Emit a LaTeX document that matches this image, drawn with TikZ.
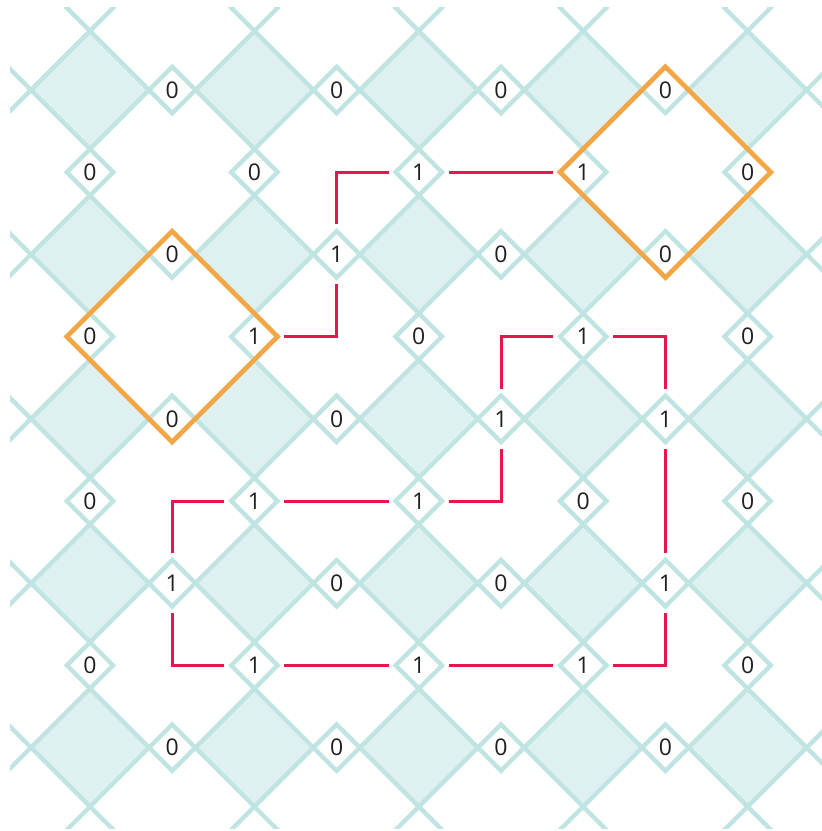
\documentclass[tikz,border=0pt]{standalone}
\usepackage{fontspec}
\setmainfont{Open Sans}
\definecolor{tealline}{RGB}{191,228,226}
\definecolor{tealfill}{RGB}{222,240,240}
\definecolor{orangeline}{RGB}{245,166,68}
\definecolor{redline}{RGB}{230,22,78}
\definecolor{txt}{RGB}{35,31,32}
\begin{document}
\begin{tikzpicture}[x=1pt,y=-1pt,
  shadedbox/.style={fill=tealfill,draw=tealline,line width=4.4pt,line join=miter},
  smallbox/.style={fill=white,draw=tealline,line width=4.4pt,line join=miter},
  lbl/.style={inner sep=0pt,text=txt,font=\fontsize{23}{27}\selectfont},
  redl/.style={draw=redline,line width=3pt,line join=miter,shorten <=30pt,shorten >=30pt},
  orangebox/.style={draw=orangeline,line width=4.6pt,line join=miter}]
\useasboundingbox (0,0) rectangle (822,831);
\def\s{82.2}
\def\hs{23.2}
\pgfmathsetmacro{\hb}{\s-\hs}
\pgfmathsetmacro{\ho}{\s+\hs}
\begin{scope}
\clip (10,7) rectangle (824,828);
\foreach \c in {-2,0,...,10}{
  \foreach \r in {-2,0,...,10}{
    \path[shadedbox] ({90+\c*\s-\hb},{90+\r*\s}) -- ++(\hb,-\hb) -- ++(\hb,\hb) -- ++(-\hb,\hb) -- cycle;
  }
}
\foreach \c in {-1,...,9}{
  \foreach \r in {-1,...,9}{
    \pgfmathtruncatemacro{\parity}{mod(\c+\r+2,2)}
    \ifnum\parity=1
      \path[smallbox] ({90+\c*\s-\hs},{90+\r*\s}) -- ++(\hs,-\hs) -- ++(\hs,\hs) -- ++(-\hs,\hs) -- cycle;
    \fi
  }
}
\end{scope}
\foreach \c/\r/\v in {1/0/0,3/0/0,5/0/0,7/0/0,
  0/1/0,2/1/0,4/1/1,6/1/1,8/1/0,
  1/2/0,3/2/1,5/2/0,7/2/0,
  0/3/0,2/3/1,4/3/0,6/3/1,8/3/0,
  1/4/0,3/4/0,5/4/1,7/4/1,
  0/5/0,2/5/1,4/5/1,6/5/0,8/5/0,
  1/6/1,3/6/0,5/6/0,7/6/1,
  0/7/0,2/7/1,4/7/1,6/7/1,8/7/0,
  1/8/0,3/8/0,5/8/0,7/8/0}{
  \node[lbl] (n\c\r) at ({90+\c*\s},{90+\r*\s}) {\v};
}
\foreach \c/\r in {3/3,3/1,7/3,7/7,1/7,1/5,5/5,5/3}{
  \coordinate (k\c\r) at ({90+\c*\s},{90+\r*\s});
}
% error chain
\draw[redl] (n23.center) -- (k33) -- (n32.center);
\draw[redl] (n32.center) -- (k31) -- (n41.center);
\draw[redl] (n41.center) -- (n61.center);
% closed loop
\draw[redl] (n63.center) -- (k73) -- (n74.center);
\draw[redl] (n74.center) -- (n76.center);
\draw[redl] (n76.center) -- (k77) -- (n67.center);
\draw[redl] (n67.center) -- (n47.center);
\draw[redl] (n47.center) -- (n27.center);
\draw[redl] (n27.center) -- (k17) -- (n16.center);
\draw[redl] (n16.center) -- (k15) -- (n25.center);
\draw[redl] (n25.center) -- (n45.center);
\draw[redl] (n45.center) -- (k55) -- (n54.center);
\draw[redl] (n54.center) -- (k53) -- (n63.center);
% highlighted plaquettes
\coordinate (o1) at ({90+1*\s},{90+3*\s});
\coordinate (o2) at ({90+7*\s},{90+1*\s});
\draw[orangebox] (o1) ++(-\ho,0) -- ++(\ho,-\ho) -- ++(\ho,\ho) -- ++(-\ho,\ho) -- cycle;
\draw[orangebox] (o2) ++(-\ho,0) -- ++(\ho,-\ho) -- ++(\ho,\ho) -- ++(-\ho,\ho) -- cycle;
\end{tikzpicture}
\end{document}
